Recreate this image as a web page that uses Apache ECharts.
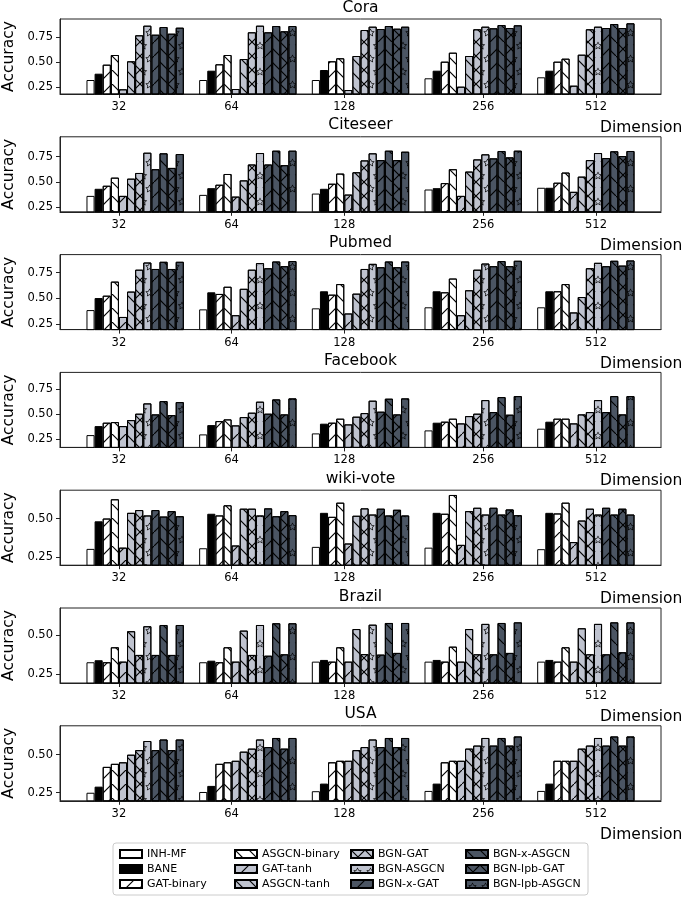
<!DOCTYPE html>
<html><head><meta charset="utf-8">
<script src="https://cdn.jsdelivr.net/npm/echarts@6/dist/echarts.min.js"></script>
<style>html,body{margin:0;padding:0;background:#fff}#c{width:685px;height:898px}</style>
</head><body><div id="c"></div>
<script>
// ---------------- data ----------------
const datasets = ['Cora', 'Citeseer', 'Pubmed', 'Facebook', 'wiki-vote', 'Brazil', 'USA'];
const dims = ['32', '64', '128', '256', '512'];
const methods = ['INH-MF', 'BANE', 'GAT-binary', 'ASGCN-binary', 'GAT-tanh', 'ASGCN-tanh',
  'BGN-GAT', 'BGN-ASGCN', 'BGN-x-GAT', 'BGN-x-ASGCN', 'BGN-lpb-GAT', 'BGN-lpb-ASGCN'];

// rows = methods, columns = dims
const cora = [
  [0.320, 0.320, 0.320, 0.337, 0.347],
  [0.383, 0.413, 0.420, 0.413, 0.413],
  [0.473, 0.477, 0.507, 0.503, 0.503],
  [0.570, 0.570, 0.537, 0.593, 0.533],
  [0.227, 0.230, 0.220, 0.253, 0.263],
  [0.507, 0.530, 0.560, 0.560, 0.573],
  [0.767, 0.797, 0.820, 0.827, 0.827],
  [0.863, 0.863, 0.853, 0.853, 0.853],
  [0.773, 0.797, 0.830, 0.837, 0.840],
  [0.850, 0.860, 0.860, 0.870, 0.880],
  [0.783, 0.807, 0.833, 0.840, 0.840],
  [0.843, 0.860, 0.853, 0.867, 0.887]
];
const citeseer = [
  [0.362, 0.372, 0.385, 0.425, 0.442],
  [0.432, 0.438, 0.432, 0.438, 0.442],
  [0.462, 0.472, 0.482, 0.488, 0.492],
  [0.542, 0.578, 0.582, 0.625, 0.592],
  [0.362, 0.355, 0.375, 0.362, 0.402],
  [0.532, 0.515, 0.595, 0.602, 0.552],
  [0.588, 0.672, 0.712, 0.722, 0.715],
  [0.788, 0.785, 0.782, 0.772, 0.785],
  [0.625, 0.672, 0.715, 0.732, 0.735],
  [0.782, 0.808, 0.808, 0.805, 0.802],
  [0.638, 0.665, 0.715, 0.742, 0.755],
  [0.775, 0.808, 0.798, 0.808, 0.805]
];
const pubmed = [
  [0.385, 0.392, 0.402, 0.412, 0.412],
  [0.502, 0.558, 0.568, 0.568, 0.568],
  [0.525, 0.542, 0.535, 0.558, 0.568],
  [0.662, 0.612, 0.638, 0.692, 0.638],
  [0.318, 0.335, 0.352, 0.335, 0.362],
  [0.565, 0.592, 0.545, 0.578, 0.512],
  [0.778, 0.778, 0.785, 0.778, 0.792],
  [0.848, 0.842, 0.835, 0.838, 0.845],
  [0.785, 0.792, 0.802, 0.812, 0.812],
  [0.855, 0.858, 0.858, 0.862, 0.865],
  [0.785, 0.812, 0.802, 0.812, 0.818],
  [0.855, 0.862, 0.858, 0.865, 0.868]
];
const facebook = [
  [0.293, 0.300, 0.310, 0.340, 0.357],
  [0.383, 0.393, 0.407, 0.417, 0.427],
  [0.417, 0.433, 0.417, 0.427, 0.457],
  [0.423, 0.450, 0.457, 0.457, 0.457],
  [0.383, 0.390, 0.400, 0.410, 0.410],
  [0.443, 0.473, 0.477, 0.483, 0.500],
  [0.507, 0.517, 0.513, 0.507, 0.523],
  [0.610, 0.627, 0.637, 0.643, 0.643],
  [0.500, 0.507, 0.527, 0.523, 0.523],
  [0.633, 0.650, 0.657, 0.673, 0.683],
  [0.493, 0.500, 0.500, 0.497, 0.500],
  [0.623, 0.660, 0.660, 0.683, 0.683]
];
const wikivote = [
  [0.303, 0.307, 0.316, 0.311, 0.301],
  [0.482, 0.531, 0.537, 0.537, 0.537],
  [0.500, 0.520, 0.511, 0.531, 0.533],
  [0.625, 0.586, 0.603, 0.653, 0.603],
  [0.311, 0.325, 0.338, 0.329, 0.347],
  [0.537, 0.564, 0.518, 0.548, 0.487],
  [0.555, 0.564, 0.566, 0.570, 0.564],
  [0.520, 0.520, 0.526, 0.526, 0.526],
  [0.555, 0.566, 0.564, 0.570, 0.570],
  [0.513, 0.515, 0.520, 0.526, 0.526],
  [0.548, 0.548, 0.557, 0.559, 0.564],
  [0.515, 0.522, 0.520, 0.522, 0.526]
];
const brazil = [
  [0.325, 0.325, 0.329, 0.329, 0.329],
  [0.338, 0.335, 0.340, 0.340, 0.340],
  [0.325, 0.325, 0.329, 0.329, 0.329],
  [0.421, 0.421, 0.421, 0.425, 0.421],
  [0.329, 0.329, 0.329, 0.329, 0.329],
  [0.524, 0.528, 0.538, 0.538, 0.543],
  [0.372, 0.372, 0.377, 0.376, 0.376],
  [0.556, 0.564, 0.566, 0.571, 0.571],
  [0.372, 0.367, 0.374, 0.376, 0.376],
  [0.564, 0.575, 0.577, 0.577, 0.581],
  [0.372, 0.376, 0.385, 0.385, 0.389],
  [0.564, 0.575, 0.577, 0.581, 0.581]
];
const usa = [
  [0.250, 0.255, 0.260, 0.262, 0.262],
  [0.290, 0.295, 0.310, 0.310, 0.310],
  [0.420, 0.440, 0.450, 0.450, 0.460],
  [0.440, 0.450, 0.460, 0.460, 0.460],
  [0.450, 0.460, 0.460, 0.460, 0.460],
  [0.500, 0.520, 0.530, 0.540, 0.540],
  [0.530, 0.540, 0.550, 0.560, 0.560],
  [0.590, 0.600, 0.600, 0.610, 0.610],
  [0.530, 0.550, 0.550, 0.560, 0.560],
  [0.600, 0.610, 0.610, 0.610, 0.620],
  [0.530, 0.540, 0.550, 0.560, 0.560],
  [0.600, 0.610, 0.610, 0.620, 0.620]
];
const allValues = [cora, citeseer, pubmed, facebook, wikivote, brazil, usa];

const yTicks4 = [0.25, 0.50, 0.75];
const yTicks3 = [0.25, 0.50];
const yTickSets = [yTicks4, yTicks4, yTicks4, yTicks4, yTicks3, yTicks3, yTicks3];
const yMin = [0.18, 0.205, 0.195, 0.17, 0.197, 0.192, 0.197];
const yMax = [0.93, 0.945, 0.925, 0.92, 0.684, 0.673, 0.690];

// ---------------- layout / style ----------------
const FONT = 'DejaVu Sans';
const gridLeft = 60, gridWidth = 601, gridHeight = 75, top0 = 19, step = 117.8;
const xMin = -0.667, xMax = 4.667;
const barW = 0.072;                     // bar width in group units
const tickOffsetBars = [4, 4, 4, 7.25, 7.25];
const pxPerUnit = gridWidth / (xMax - xMin);
const barPx = barW * pxPerUnit;
const tickPos = dims.map((_, g) => g + (tickOffsetBars[g] - 6) * barW);

const LIGHT = '#bfc3cf', DARK = '#4b5563';
const fills = ['#ffffff', '#000000', '#ffffff', '#ffffff', LIGHT, LIGHT, LIGHT, LIGHT, DARK, DARK, DARK, DARK];
const hatches = [null, null, '/', '\\', '/', '\\', 'x', '*', '/', '\\', 'x', '*'];

// ---- hatch shapes (decal symbols) ----
function starPts(cx, cy, R, r, rev) {
  const pts = [];
  for (let k = 0; k < 10; k++) {
    const a = -Math.PI / 2 + k * Math.PI / 5;
    const rad = k % 2 === 0 ? R : r;
    pts.push([cx + rad * Math.cos(a), cy + rad * Math.sin(a)]);
  }
  return rev ? pts.reverse() : pts;
}
function clipX(pts, c, keepRight) {
  const inside = p => keepRight ? p[0] >= c : p[0] <= c;
  const out = [];
  for (let k = 0; k < pts.length; k++) {
    const a = pts[k], b = pts[(k + 1) % pts.length];
    const ia = inside(a), ib = inside(b);
    if (ia) out.push(a);
    if (ia !== ib) {
      const t = (c - a[0]) / (b[0] - a[0]);
      out.push([c, a[1] + t * (b[1] - a[1])]);
    }
  }
  return out;
}
function toPath(pts) {
  if (pts.length < 3) return '';
  return 'M' + pts.map(p => p[0].toFixed(2) + ',' + p[1].toFixed(2)).join(' L') + ' Z ';
}
function starRing(cx, cy, clipFn) {
  const R = 6.8, r = 3.4, k = 0.68;
  const o = starPts(cx, cy, R, r, false), h = starPts(cx, cy, R * k, r * k, true);
  return toPath(clipFn ? clipFn(o) : o) + toPath(clipFn ? clipFn(h) : h);
}
const SLASH = 'M0,20 L0,18.8 L18.8,0 L20,0 L20,1.2 L1.2,20 Z ';
const BACK = 'M0,0 L1.2,0 L20,18.8 L20,20 L18.8,20 L0,1.2 Z ';
const ANCH = 'M0,0 L0.02,0 L0,0.02 Z M20,40 L19.98,40 L20,39.98 Z ';
const STARS = ANCH + starRing(10, 10.5, null) +
  starRing(0, 30.5, p => clipX(p, 0, true)) + starRing(20, 30.5, p => clipX(p, 20, false));

function decalFor(h) {
  if (!h) return undefined;
  const base = { symbolSize: 1, symbolKeepAspect: false, color: '#000', rotation: 0 };
  if (h === '/') return Object.assign({ symbol: 'path://' + SLASH, dashArrayX: [14, 0], dashArrayY: [14, 0] }, base);
  if (h === '\\') return Object.assign({ symbol: 'path://' + BACK, dashArrayX: [14, 0], dashArrayY: [14, 0] }, base);
  if (h === 'x') return Object.assign({ symbol: 'path://' + SLASH + BACK, dashArrayX: [14, 0], dashArrayY: [14, 0] }, base);
  return Object.assign({ symbol: 'path://' + STARS, dashArrayX: [13, 0], dashArrayY: [26, 0] }, base);
}

const grids = [], xAxes = [], yAxes = [], series = [], graphics = [];
datasets.forEach((name, d) => {
  const top = top0 + d * step;
  grids.push({ left: gridLeft, width: gridWidth, top: top, height: gridHeight, show: true,
    borderColor: '#222', borderWidth: 1, backgroundColor: 'transparent', outerBoundsMode: 'none' });
  xAxes.push({
    type: 'value', gridIndex: d, min: xMin, max: xMax,
    splitLine: { show: false },
    axisLine: { show: true, onZero: false, lineStyle: { color: '#222', width: 1 } },
    axisTick: { show: true, customValues: tickPos, length: 4, lineStyle: { color: '#222' } },
    axisLabel: { customValues: tickPos, color: '#000', fontSize: 11.5, fontFamily: FONT, margin: 7,
      formatter: v => { const g = tickPos.findIndex(t => Math.abs(t - v) < 1e-6); return g >= 0 ? dims[g] : ''; } }
  });
  yAxes.push({
    type: 'value', gridIndex: d, min: yMin[d], max: yMax[d],
    splitLine: { show: false },
    axisLine: { show: true, onZero: false, lineStyle: { color: '#222', width: 1 } },
    axisTick: { show: true, customValues: yTickSets[d], length: 4, lineStyle: { color: '#222' } },
    axisLabel: { customValues: yTickSets[d], color: '#000', fontSize: 11.5, fontFamily: FONT, margin: 7,
      formatter: v => v.toFixed(2) },
    name: 'Accuracy', nameLocation: 'middle', nameGap: 38,
    nameTextStyle: { fontSize: 15.5, color: '#000', fontFamily: FONT }
  });
  methods.forEach((m, i) => {
    series.push({
      type: 'bar', name: m, xAxisIndex: d, yAxisIndex: d,
      barWidth: barPx, barGap: '-100%', clip: true, animation: false,
      emphasis: { disabled: true },
      itemStyle: { color: fills[i], borderColor: '#000', borderWidth: 1, decal: decalFor(hatches[i]) },
      data: dims.map((_, g) => [g + (i - 5.5) * barW, allValues[d][i][g]])
    });
  });
  graphics.push({ type: 'text', x: gridLeft + gridWidth / 2, y: top - 11.5,
    style: { text: name, fill: '#000', font: '15.5px "DejaVu Sans"', align: 'center', verticalAlign: 'middle' } });
  graphics.push({ type: 'text', x: 600, y: top + gridHeight + 34,
    style: { text: 'Dimension', fill: '#000', font: '15.5px "DejaVu Sans"', align: 'left', verticalAlign: 'middle' } });
});

graphics.push({ type: 'rect', z: -10, shape: { x: 113, y: 843, width: 475, height: 52, r: 3 },
  style: { fill: '#fff', stroke: '#cccccc', lineWidth: 1 } });

const legendCols = [119, 234, 350, 465];
const legends = legendCols.map((lx, c) => ({
  orient: 'vertical', left: lx, top: 846.5, padding: 0, itemGap: 0,
  itemWidth: 22, itemHeight: 8, icon: 'rect', selectedMode: false,
  data: methods.slice(c * 3, c * 3 + 3),
  textStyle: { fontSize: 11, fontFamily: FONT, color: '#000', lineHeight: 15 }
}));

const chart = echarts.init(document.getElementById('c'), null, { renderer: 'canvas' });
chart.setOption({
  animation: false,
  backgroundColor: '#fff',
  grid: grids, xAxis: xAxes, yAxis: yAxes, series: series,
  legend: legends, graphic: graphics
});
</script></body></html>
